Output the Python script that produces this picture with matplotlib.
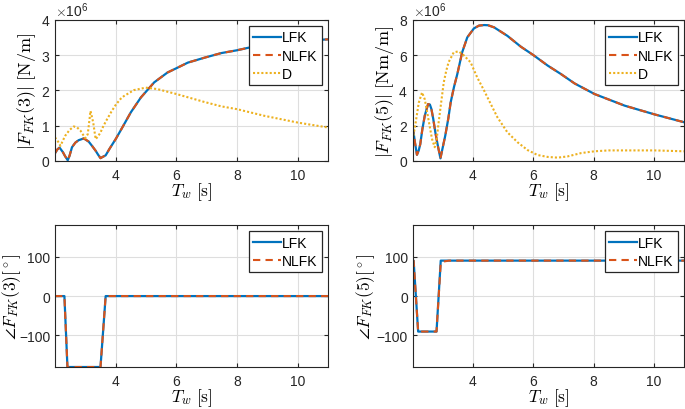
import numpy as np
import matplotlib
matplotlib.use('Agg')
import matplotlib.pyplot as plt
from matplotlib.ticker import ScalarFormatter

# periods [s] and magnitudes (in 1e6)
tw_f3 = [2.0, 2.08, 2.15, 2.26, 2.33, 2.42, 2.48, 2.56, 2.67, 2.78, 2.95, 3.11, 3.22, 3.34, 3.42,
         3.5, 3.58, 3.67, 3.8, 4.0, 4.16, 4.5, 4.83, 5.27, 5.71, 6.0, 6.38, 6.93, 7.48, 8.0,
         8.42, 9.0, 10.0, 11.0]
lfk_f3 = [0.22, 0.33, 0.38, 0.25, 0.14, 0.02, 0.15, 0.39, 0.52, 0.59, 0.64, 0.55, 0.43, 0.29, 0.18,
          0.08, 0.12, 0.16, 0.35, 0.62, 0.86, 1.38, 1.80, 2.23, 2.51, 2.63, 2.79, 2.93, 3.06, 3.14,
          3.22, 3.30, 3.40, 3.45]

tw_d3 = [2.0, 2.1, 2.18, 2.26, 2.34, 2.48, 2.62, 2.73, 2.84, 2.92, 3.0, 3.08, 3.17, 3.26, 3.34,
         3.42, 3.5, 3.6, 3.72, 3.86, 4.0, 4.16, 4.27, 4.6, 4.99, 5.37, 6.0, 6.9, 7.48, 8.0,
         8.91, 10.0, 11.0]
d_f3 = [0.67, 0.55, 0.43, 0.58, 0.72, 0.88, 0.98, 0.95, 0.86, 0.75, 0.65, 0.76, 1.42, 1.09, 0.62,
        0.70, 0.81, 1.00, 1.19, 1.40, 1.59, 1.76, 1.84, 2.01, 2.08, 2.04, 1.90, 1.68, 1.55, 1.47,
        1.28, 1.09, 0.95]

tw_f5 = [2.0, 2.07, 2.14, 2.2, 2.25, 2.32, 2.4, 2.51, 2.57, 2.62, 2.68, 2.75, 2.83, 2.92, 3.0,
         3.08, 3.18, 3.26, 3.37, 3.48, 3.64, 3.81, 4.03, 4.2, 4.37, 4.5, 4.7, 5.14, 5.59, 6.0,
         6.48, 6.92, 7.37, 8.03, 9.03, 10.03, 11.0]
lfk_f5 = [1.95, 1.10, 0.35, 0.60, 0.95, 1.80, 2.57, 3.23, 3.20, 2.95, 2.40, 1.63, 0.90, 0.15, 0.80,
          1.44, 2.40, 3.33, 4.20, 4.93, 6.16, 7.01, 7.52, 7.68, 7.71, 7.70, 7.58, 7.10, 6.48, 6.01,
          5.41, 4.93, 4.40, 3.80, 3.14, 2.64, 2.20]

tw_d5 = [2.0, 2.1, 2.2, 2.31, 2.4, 2.48, 2.56, 2.64, 2.73, 2.8, 2.86, 2.95, 3.03, 3.11, 3.19,
         3.36, 3.52, 3.69, 3.92, 4.14, 4.37, 4.59, 4.81, 5.14, 5.48, 5.81, 6.14, 6.48, 6.81, 7.14,
         7.59, 8.03, 8.5, 9.03, 10.03, 11.0]
d_f5 = [1.20, 2.20, 3.30, 3.89, 3.50, 2.76, 2.00, 1.25, 0.78, 1.30, 2.19, 3.40, 4.46, 5.10, 5.60,
        6.16, 6.22, 6.00, 5.60, 4.74, 3.99, 3.23, 2.48, 1.63, 1.06, 0.62, 0.34, 0.23, 0.19, 0.26,
        0.45, 0.55, 0.60, 0.60, 0.60, 0.55]

# phase [deg]
tw_p3 = [2.0, 2.31, 2.41, 3.50, 3.67, 11.0]
lfk_p3 = [0, 0, -180, -180, 0, 0]
nlfk_p3 = [0, 0, -180, -180, 0, 0]

tw_p5 = [2.0, 2.03, 2.18, 2.79, 2.93, 3.05, 3.2, 11.0]
lfk_p5 = [90, 90, -90, -90, 90, 90, 90, 90]
nlfk_p5 = [90, 90, -90, -90, 84, 88, 90, 90]

plt.rcParams['font.family'] = ['Liberation Sans', 'DejaVu Sans']
plt.rcParams['mathtext.fontset'] = 'cm'
plt.rcParams['xtick.direction'] = 'in'
plt.rcParams['ytick.direction'] = 'in'

blue = (0.0, 0.447, 0.741)
orange = (0.85, 0.325, 0.098)
yellow = (0.929, 0.694, 0.125)
dark = (0.15, 0.15, 0.15)
dash = (0, (3.5, 2.5))

fig = plt.figure(figsize=(6.85, 4.10), dpi=100)
ax1 = fig.add_axes([0.0803, 0.6049, 0.3985, 0.344])
ax2 = fig.add_axes([0.6025, 0.6049, 0.3960, 0.344])
ax3 = fig.add_axes([0.0803, 0.1024, 0.3985, 0.346])
ax4 = fig.add_axes([0.6025, 0.1024, 0.3960, 0.346])

scale = 1e6
ax1.plot(tw_f3, np.array(lfk_f3) * scale, color=blue, lw=1.6, label='LFK')
ax1.plot(tw_f3, np.array(lfk_f3) * scale, color=orange, lw=1.5, ls=dash, label='NLFK')
ax1.plot(tw_d3, np.array(d_f3) * scale, color=yellow, lw=1.5, ls=(0, (1, 1)), label='D')
ax1.set_ylim(0, 4e6)
ax1.set_yticks(np.arange(0, 5) * 1e6)
ax1.set_ylabel(r'$|F_{FK}(3)|\ [\mathrm{N/m}]$', fontsize=13, labelpad=2)

ax2.plot(tw_f5, np.array(lfk_f5) * scale, color=blue, lw=1.6, label='LFK')
ax2.plot(tw_f5, np.array(lfk_f5) * scale, color=orange, lw=1.5, ls=dash, label='NLFK')
ax2.plot(tw_d5, np.array(d_f5) * scale, color=yellow, lw=1.5, ls=(0, (1, 1)), label='D')
ax2.set_ylim(0, 8e6)
ax2.set_yticks(np.arange(0, 9, 2) * 1e6)
ax2.set_ylabel(r'$|F_{FK}(5)|\ [\mathrm{Nm/m}]$', fontsize=13, labelpad=2)

ax3.plot(tw_p3, lfk_p3, color=blue, lw=1.6, label='LFK')
ax3.plot(tw_p3, nlfk_p3, color=orange, lw=1.5, ls=dash, label='NLFK')
ax3.set_ylim(-180, 180)
ax3.set_yticks([-100, 0, 100])
ax3.set_ylabel(r'$\angle F_{FK}(3) [^\circ]$', fontsize=12.5, labelpad=-3)

ax4.plot(tw_p5, lfk_p5, color=blue, lw=1.6, label='LFK')
ax4.plot(tw_p5, nlfk_p5, color=orange, lw=1.5, ls=dash, label='NLFK')
ax4.set_ylim(-180, 180)
ax4.set_yticks([-100, 0, 100])
ax4.set_ylabel(r'$\angle F_{FK}(5) [^\circ]$', fontsize=12.5, labelpad=0)

for ax in [ax1, ax2, ax3, ax4]:
    ax.set_xlim(2, 11)
    ax.set_xticks([4, 6, 8, 10])
    ax.set_xlabel(r'$T_w\ [\mathrm{s}]$', fontsize=12.5, labelpad=-1)
    ax.grid(True, color=(0.87, 0.87, 0.87), lw=0.8)
    ax.set_axisbelow(True)
    ax.tick_params(labelsize=10, colors=dark, top=True, right=True, length=3, width=0.8)
    ax.tick_params(axis='x', pad=5)
    for s in ax.spines.values():
        s.set_color(dark)
        s.set_linewidth(0.8)
    leg = ax.legend(loc='upper right', fontsize=10, handlelength=2.0, handletextpad=0.1,
                    labelspacing=0.3, borderaxespad=0.45, borderpad=0.3, fancybox=False,
                    framealpha=1, edgecolor=dark)
    leg.get_frame().set_linewidth(0.9)

for ax in [ax1, ax2]:
    fmt = ScalarFormatter(useMathText=True)
    fmt.set_powerlimits((0, 0))
    ax.yaxis.set_major_formatter(fmt)
    ax.yaxis.get_offset_text().set_fontsize(10)

fig.savefig('out.png', dpi=100)
